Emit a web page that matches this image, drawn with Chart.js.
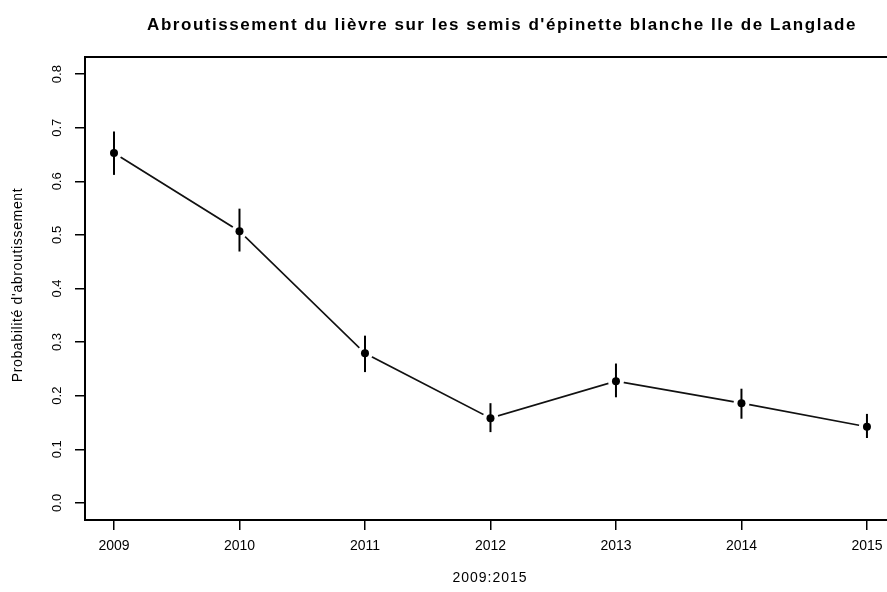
<!DOCTYPE html>
<html>
<head>
<meta charset="utf-8">
<script src="https://cdn.jsdelivr.net/npm/chart.js@4/dist/chart.umd.min.js"></script>
<style>
html,body{margin:0;padding:0;background:#fff;overflow:hidden;}
#c{display:block;}
</style>
</head>
<body>
<canvas id="c" width="887" height="592" style="width:887px;height:592px"></canvas>
<script>
// ---- data ----
const years = [2009, 2010, 2011, 2012, 2013, 2014, 2015];
const prob  = [0.653, 0.507, 0.279, 0.158, 0.227, 0.186, 0.142];
const lower = [0.612, 0.469, 0.244, 0.132, 0.197, 0.157, 0.121];
const upper = [0.693, 0.549, 0.312, 0.186, 0.260, 0.213, 0.166];
const yTicks = [0.0, 0.1, 0.2, 0.3, 0.4, 0.5, 0.6, 0.7, 0.8];
const yTickLabels = ["0.0", "0.1", "0.2", "0.3", "0.4", "0.5", "0.6", "0.7", "0.8"];
const titleText = "Abroutissement du lièvre sur les semis d'épinette blanche Ile de Langlade";
const xTitle = "2009:2015";
const yTitle = "Probabilité d'abroutissement";

const FONT = "'Liberation Sans', Arial, Helvetica, sans-serif";
const pts = years.map((y, i) => ({x: y, y: prob[i]}));

const errorBars = {
  id: 'errorBars',
  afterDatasetDraw(chart, args) {
    if (args.index !== 1) return;
    const {ctx, scales: {x, y}} = chart;
    ctx.save();
    ctx.strokeStyle = '#000';
    ctx.lineWidth = 2;
    years.forEach((yr, i) => {
      const px = x.getPixelForValue(yr);
      ctx.beginPath();
      ctx.moveTo(px, y.getPixelForValue(lower[i]));
      ctx.lineTo(px, y.getPixelForValue(upper[i]));
      ctx.stroke();
    });
    ctx.restore();
  }
};

function spacedText(ctx, text, cx, cy, target) {
  const w = ctx.measureText(text).width;
  if ('letterSpacing' in ctx) ctx.letterSpacing = ((target - w) / (text.length - 1)).toFixed(2) + 'px';
  ctx.fillText(text, cx, cy);
  if ('letterSpacing' in ctx) ctx.letterSpacing = '0px';
}

const decor = {
  id: 'decor',
  afterDraw(chart) {
    const {ctx, chartArea: a, scales: {y}, width} = chart;
    ctx.save();
    // box (right side lies outside the cropped picture)
    ctx.strokeStyle = '#000';
    ctx.lineWidth = 2;
    ctx.beginPath();
    ctx.moveTo(width + 2, a.top);
    ctx.lineTo(a.left, a.top);
    ctx.lineTo(a.left, a.bottom);
    ctx.lineTo(width + 2, a.bottom);
    ctx.stroke();
    // y tick labels (rotated, R style)
    ctx.fillStyle = '#000';
    ctx.font = '13px ' + FONT;
    ctx.textAlign = 'center';
    ctx.textBaseline = 'middle';
    yTicks.forEach((v, i) => {
      ctx.save();
      ctx.translate(57, y.getPixelForValue(v));
      ctx.rotate(-Math.PI / 2);
      ctx.fillText(yTickLabels[i], 0, 0);
      ctx.restore();
    });
    // y axis title
    ctx.save();
    ctx.font = '14px ' + FONT;
    ctx.translate(18, 285);
    ctx.rotate(-Math.PI / 2);
    spacedText(ctx, yTitle, 0, 0, 194);
    ctx.restore();
    // x axis title
    ctx.font = '14px ' + FONT;
    spacedText(ctx, xTitle, 490, 578, 74);
    // main title
    ctx.font = 'bold 17px ' + FONT;
    spacedText(ctx, titleText, 502, 25, 708);
    ctx.restore();
  }
};

new Chart(document.getElementById('c'), {
  type: 'line',
  data: {
    datasets: [
      { // black points (drawn last)
        data: pts, order: 1, showLine: false,
        pointRadius: 4, pointBackgroundColor: '#000', pointBorderColor: '#000', pointBorderWidth: 0
      },
      { // white gaps around the points (R type = "b")
        data: pts, order: 2, showLine: false,
        pointRadius: 8, pointBackgroundColor: '#fff', pointBorderWidth: 0
      },
      { // connecting line
        data: pts, order: 3, borderColor: '#111', borderWidth: 1.7,
        pointRadius: 0, tension: 0, fill: false
      }
    ]
  },
  options: {
    responsive: false,
    animation: false,
    events: [],
    layout: {padding: {top: 57, left: 0, right: 0, bottom: 0}},
    plugins: {legend: {display: false}, tooltip: {enabled: false}, title: {display: false}},
    scales: {
      x: {
        type: 'linear', min: 2008.769, max: 2015.096,
        afterBuildTicks: s => { s.ticks = years.map(v => ({value: v})); },
        afterFit: s => { s.height = 72; s.paddingLeft = 0; s.paddingRight = 0; },
        ticks: {color: '#000', font: {size: 14, family: FONT}, padding: 8, callback: v => String(v), maxRotation: 0, autoSkip: false},
        grid: {drawOnChartArea: false, drawTicks: true, tickLength: 10, color: '#000', lineWidth: 1.5},
        border: {display: true, color: '#000', width: 2},
        title: {display: false}
      },
      y: {
        type: 'linear', min: -0.032, max: 0.832,
        afterBuildTicks: s => { s.ticks = yTicks.map(v => ({value: v})); },
        afterFit: s => { s.width = 85; s.paddingTop = 0; s.paddingBottom = 0; },
        ticks: {display: false},
        grid: {drawOnChartArea: false, drawTicks: true, tickLength: 10, color: '#000', lineWidth: 1.5},
        border: {display: true, color: '#000', width: 2},
        title: {display: false}
      }
    }
  },
  plugins: [errorBars, decor]
});
</script>
</body>
</html>
